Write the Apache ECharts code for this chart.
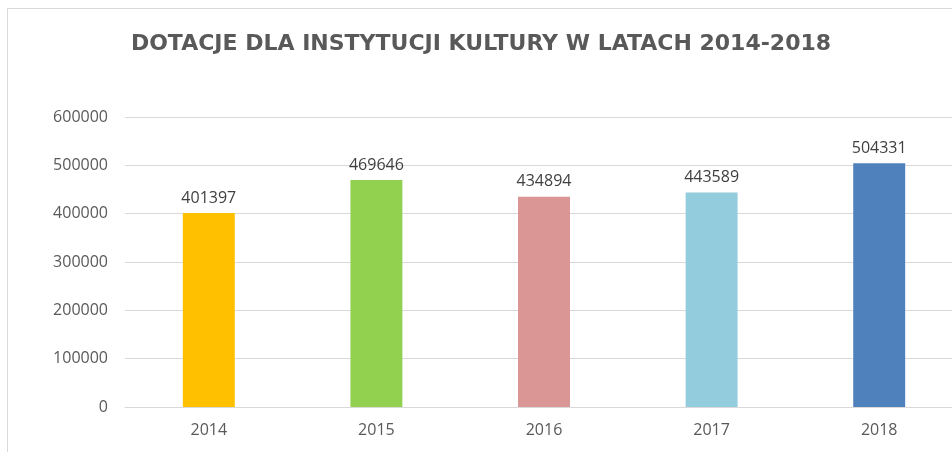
<!DOCTYPE html>
<html>
<head>
<meta charset="utf-8">
<script src="https://cdn.jsdelivr.net/npm/echarts@6/dist/echarts.min.js"></script>
<style>
  html, body { margin: 0; padding: 0; background: #fff; overflow: hidden; }
  #frame { position: absolute; left: 7px; top: 8px; width: 960px; height: 460px; border: 1px solid #d9d9d9; box-sizing: border-box; }
  #chart { width: 980px; height: 452px; position: absolute; left: 0; top: 0; }
</style>
</head>
<body>
<div id="frame"></div>
<div id="chart"></div>
<script>
const years = ['2014', '2015', '2016', '2017', '2018'];
const amounts = [401397, 469646, 434894, 443589, 504331];
const barColors = ['#FFC000', '#92D050', '#D99694', '#93CDDD', '#4F81BD'];
const yTicks = [0, 100000, 200000, 300000, 400000, 500000, 600000];

const chart = echarts.init(document.getElementById('chart'));

let option = {
  animation: false,
  title: {
    text: 'DOTACJE DLA INSTYTUCJI KULTURY W LATACH 2014-2018',
    left: 476,
    top: 28,
    textAlign: 'center',
    textStyle: {
      fontFamily: 'DejaVu Sans',
      fontWeight: 'bold',
      fontSize: 22,
      color: '#595959'
    }
  },
  grid: {
    left: 125,
    width: 838,
    top: 117,
    bottom: 45,
    outerBoundsMode: 'none'
  },
  xAxis: {
    type: 'category',
    data: years,
    axisLine: { lineStyle: { color: '#d9d9d9' } },
    axisTick: { show: false },
    axisLabel: { color: '#595959', fontSize: 16, fontFamily: 'Open Sans', margin: 15 }
  },
  yAxis: {
    type: 'value',
    min: yTicks[0],
    max: yTicks[yTicks.length - 1],
    interval: 100000,
    axisLine: { show: false },
    axisTick: { show: false },
    splitLine: { lineStyle: { color: '#d9d9d9' } },
    axisLabel: {
      color: '#595959',
      fontSize: 16,
      fontFamily: 'Open Sans',
      margin: 17,
      formatter: v => String(v)
    }
  },
  series: [
    {
      type: 'bar',
      barWidth: '31%',
      data: amounts.map((v, i) => ({ value: v, itemStyle: { color: barColors[i] } })),
      label: {
        show: true,
        position: 'top',
        distance: 7,
        color: '#404040',
        fontSize: 16,
        fontFamily: 'Open Sans'
      }
    }
  ]
};
chart.setOption(option);
</script>
</body>
</html>
